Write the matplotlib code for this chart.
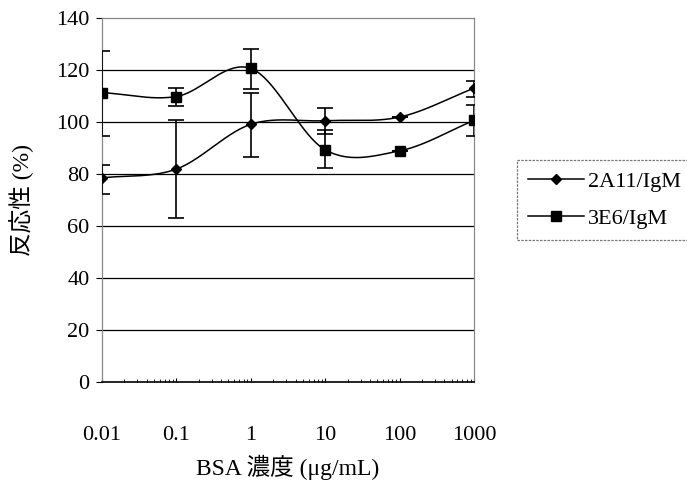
import numpy as np
import matplotlib
matplotlib.use("Agg")
import matplotlib.pyplot as plt
from matplotlib.ticker import FixedLocator, NullFormatter

# data
conc = [0.01, 0.1, 1, 10, 100, 1000]
conc_labels = ["0.01", "0.1", "1", "10", "100", "1000"]

a2a11 = [78.5, 81.9, 99.1, 100.5, 101.9, 113.0]
a2a11_hi = [83.6, 100.9, 111.0, 105.4, 101.9, 115.6]
a2a11_lo = [72.4, 63.2, 86.7, 95.5, 101.9, 109.8]

e3e6 = [111.3, 109.8, 120.6, 89.3, 88.9, 100.6]
e3e6_hi = [127.2, 112.9, 128.2, 96.8, 88.9, 106.6]
e3e6_lo = [94.7, 106.3, 112.6, 82.5, 88.9, 94.7]

yticks = [0, 20, 40, 60, 80, 100, 120, 140]

FONT = ["Liberation Serif", "Noto Sans CJK JP"]
plt.rcParams["font.family"] = FONT


def catmull(xs, ys, n=40):
	"""smoothed line like a spreadsheet chart, in log-x space"""
	lx = np.log10(np.asarray(xs, float))
	y = np.asarray(ys, float)
	px = np.concatenate([[2 * lx[0] - lx[1]], lx, [2 * lx[-1] - lx[-2]]])
	py = np.concatenate([[2 * y[0] - y[1]], y, [2 * y[-1] - y[-2]]])
	outx, outy = [], []
	t = np.linspace(0, 1, n)
	for i in range(1, len(px) - 2):
		for p, out in ((px, outx), (py, outy)):
			p0, p1, p2, p3 = p[i - 1], p[i], p[i + 1], p[i + 2]
			out.extend(0.5 * ((2 * p1) + (-p0 + p2) * t
				+ (2 * p0 - 5 * p1 + 4 * p2 - p3) * t ** 2
				+ (-p0 + 3 * p1 - 3 * p2 + p3) * t ** 3))
	return 10 ** np.array(outx), np.array(outy)


fig = plt.figure(figsize=(6.87, 4.84), dpi=100)
ax = fig.add_axes([102 / 687, 1 - 382 / 484, 372 / 687, 364 / 484])

for yv in yticks[1:-1]:
	ax.axhline(yv, color="black", lw=0.9, zorder=1)

series = [
	(a2a11, a2a11_lo, a2a11_hi, "D", 5, "2A11/IgM"),
	(e3e6, e3e6_lo, e3e6_hi, "s", 7, "3E6/IgM"),
]
for vals, lo, hi, mk, ms, lab in series:
	sx, sy = catmull(conc, vals)
	ax.plot(sx, sy, color="black", lw=1.1, zorder=3)
	err = [np.array(vals) - np.array(lo), np.array(hi) - np.array(vals)]
	ax.errorbar(conc, vals, yerr=err, fmt="none", ecolor="black",
		elinewidth=1.2, capsize=6, capthick=1.2, zorder=4)
	ax.plot(conc, vals, ls="none", marker=mk, ms=ms, color="black",
		mec="black", zorder=5)
	ax.plot([], [], color="black", lw=1.1, marker=mk, ms=ms, label=lab)

ax.set_xscale("log")
ax.set_xlim(0.01, 1000)
ax.set_ylim(0, 140)
ax.set_yticks(yticks)
ax.xaxis.set_major_locator(FixedLocator(conc))
ax.set_xticklabels(conc_labels)
ax.xaxis.set_minor_formatter(NullFormatter())
ax.tick_params(axis="x", which="both", direction="in", length=3, pad=32,
	labelsize=16)
ax.tick_params(axis="x", which="minor", length=2)
ax.tick_params(axis="y", direction="out", length=4, pad=5, labelsize=16)

for side in ["top", "right", "left"]:
	ax.spines[side].set_color("#888888")
	ax.spines[side].set_linestyle((0, (2, 1)))
	ax.spines[side].set_linewidth(0.9)
ax.spines["bottom"].set_linewidth(1.2)

ax.set_ylabel("反応性 (%)", fontsize=17)
ax.yaxis.set_label_coords(-80 / 372, 0.5)
ax.set_xlabel("BSA 濃度 (μg/mL)", fontsize=17)
ax.xaxis.set_label_coords(0.5, -(467 - 382) / 364, transform=ax.transAxes)
ax.xaxis.label.set_va("center")
ax.yaxis.label.set_va("center")

leg = fig.legend(loc="upper left", bbox_to_anchor=(517 / 687, 1 - 160 / 484),
	fontsize=16, frameon=True, fancybox=False, handlelength=2.5,
	borderpad=0.5, labelspacing=0.75, handletextpad=0.2, borderaxespad=0)
leg.get_frame().set_edgecolor("#555555")
leg.get_frame().set_linestyle((0, (2, 1)))
leg.get_frame().set_linewidth(0.9)

fig.savefig("out.png", dpi=100)
